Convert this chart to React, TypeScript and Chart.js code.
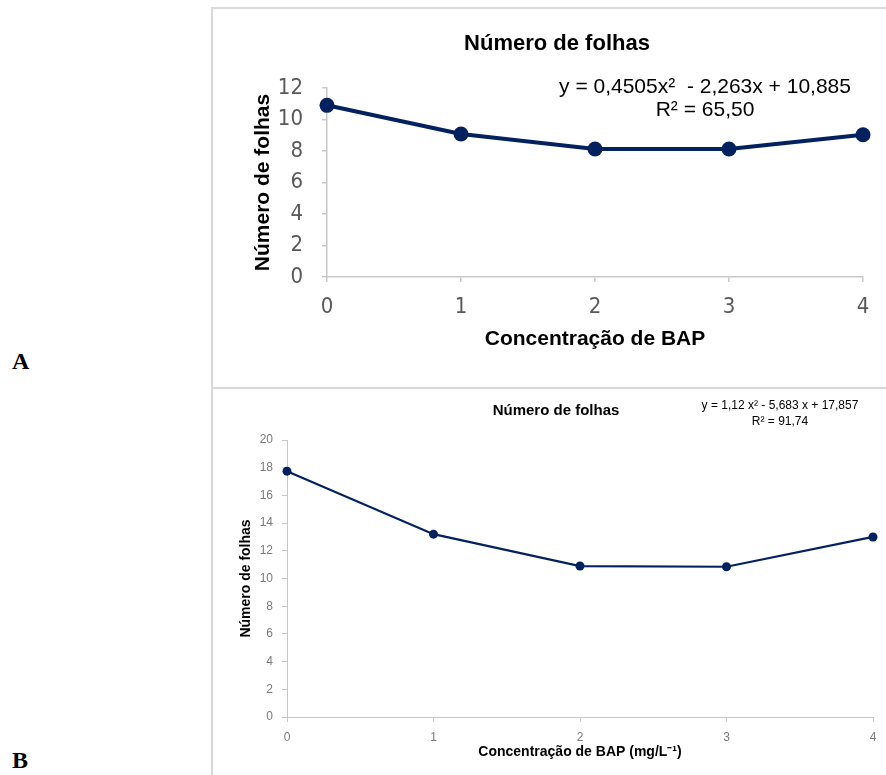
import React, { useEffect, useRef } from 'react';
import { Chart, registerables } from 'chart.js';
Chart.register(...registerables);

const concentrationLabels = ['0', '1', '2', '3', '4'];
const leavesA = [10.9, 9.08, 8.13, 8.13, 9.03];
const leavesB = [17.75, 13.2, 10.9, 10.85, 13.0];
const chartTitle = 'Número de folhas';
const yTitle = 'Número de folhas';
const xTitleA = 'Concentração de BAP';
const xTitleB = 'Concentração de BAP (mg/L⁻¹)';
const equationA = ['y = 0,4505x²  - 2,263x + 10,885', 'R² = 65,50'];
const equationB = ['y = 1,12 x² - 5,683 x + 17,857', 'R² = 91,74'];

const NAVY = '#03215f';
const AXIS = '#c8c8c8';
const ARIAL = "'Liberation Sans', Arial, sans-serif";
const NARROW = "'Liberation Sans Narrow', 'DejaVu Sans Condensed', 'Liberation Sans', sans-serif";

type Panel = {
  width: number;
  height: number;
  data: number[];
  yMax: number;
  pad: { left: number; right: number; top: number; bottom: number };
  yWidth: number;
  xHeight: number;
  tickFont: any;
  tickColor: string;
  yTickPad: number;
  xTickPad: number;
  axisTitleSize: number;
  xTitle: string;
  title: { x: number; y: number; font: string };
  eq: { lines: string[]; x: number; ys: number[]; font: string };
  lineWidth: number;
  pointRadius: number;
  axisWidth: number;
};

function ChartPanel({ p }: { p: Panel }) {
  const ref = useRef<HTMLCanvasElement | null>(null);
  useEffect(() => {
    if (!ref.current) return;
    const textPlugin = {
      id: 'texts',
      afterDraw(chart: any) {
        const ctx = chart.ctx;
        ctx.save();
        ctx.fillStyle = '#000';
        ctx.textAlign = 'center';
        ctx.textBaseline = 'middle';
        ctx.font = p.title.font;
        ctx.fillText(chartTitle, p.title.x, p.title.y);
        ctx.font = p.eq.font;
        p.eq.lines.forEach((l, i) => ctx.fillText(l, p.eq.x, p.eq.ys[i]));
        ctx.restore();
      },
    };
    const chart = new Chart(ref.current, {
      type: 'line',
      data: {
        labels: concentrationLabels,
        datasets: [
          {
            data: p.data,
            borderColor: NAVY,
            backgroundColor: NAVY,
            borderWidth: p.lineWidth,
            pointRadius: p.pointRadius,
            pointBackgroundColor: NAVY,
            pointBorderColor: NAVY,
            pointBorderWidth: 0,
            tension: 0,
            clip: false as any,
          },
        ],
      },
      options: {
        animation: false,
        responsive: false,
        layout: { padding: p.pad },
        plugins: { legend: { display: false }, title: { display: false }, tooltip: { enabled: false } },
        scales: {
          x: {
            type: 'category',
            offset: false,
            grid: { display: true, drawOnChartArea: false, drawTicks: true, tickLength: 5, color: AXIS, lineWidth: p.axisWidth },
            border: { display: true, color: AXIS, width: p.axisWidth },
            ticks: { font: p.tickFont, color: p.tickColor, padding: p.xTickPad, maxRotation: 0 },
            title: { display: true, text: p.xTitle, font: { family: ARIAL, size: p.axisTitleSize, weight: 'bold' }, color: '#000', padding: 0 },
            afterFit: (s: any) => { s.height = p.xHeight; },
          },
          y: {
            min: 0,
            max: p.yMax,
            ticks: { stepSize: 2, font: p.tickFont, color: p.tickColor, padding: p.yTickPad },
            grid: { display: true, drawOnChartArea: false, drawTicks: true, tickLength: 5, color: AXIS, lineWidth: p.axisWidth },
            border: { display: true, color: AXIS, width: p.axisWidth },
            title: { display: true, text: yTitle, font: { family: ARIAL, size: p.axisTitleSize, weight: 'bold' }, color: '#000', padding: 0 },
            afterFit: (s: any) => { s.width = p.yWidth; },
          },
        },
      },
      plugins: [textPlugin],
    } as any);
    return () => chart.destroy();
  }, []);
  return <canvas ref={ref} width={p.width} height={p.height} style={{ width: p.width, height: p.height, display: 'block' }} />;
}

const panelA: Panel = {
  width: 673,
  height: 377,
  data: leavesA,
  yMax: 12,
  pad: { left: 38, right: 23, top: 79, bottom: 34 },
  yWidth: 76,
  xHeight: 75,
  tickFont: { family: NARROW, size: 22 },
  tickColor: '#595959',
  yTickPad: 19,
  xTickPad: 12,
  axisTitleSize: 21,
  xTitle: xTitleA,
  title: { x: 344, y: 35, font: `bold 22px ${ARIAL}` },
  eq: { lines: equationA, x: 492, ys: [78, 101], font: `21px ${ARIAL}` },
  lineWidth: 4,
  pointRadius: 7.5,
  axisWidth: 1.5,
};

const panelB: Panel = {
  width: 673,
  height: 389,
  data: leavesB,
  yMax: 20,
  pad: { left: 25, right: 13, top: 53, bottom: 15 },
  yWidth: 49,
  xHeight: 44,
  tickFont: { family: ARIAL, size: 12 },
  tickColor: '#7a7a7a',
  yTickPad: 9,
  xTickPad: 8,
  axisTitleSize: 14,
  xTitle: xTitleB,
  title: { x: 343, y: 24, font: `bold 15px ${ARIAL}` },
  eq: { lines: equationB, x: 567, ys: [19, 35], font: `12px ${ARIAL}` },
  lineWidth: 2.2,
  pointRadius: 4.5,
  axisWidth: 1,
};

export default function App() {
  const letter: React.CSSProperties = {
    position: 'absolute',
    left: 12,
    fontFamily: "'Liberation Serif', 'Times New Roman', serif",
    fontWeight: 'bold',
    fontSize: 24,
    lineHeight: '24px',
    color: '#000',
  };
  return (
    <div style={{ position: 'absolute', left: 0, top: 0, width: 886, height: 775, overflow: 'hidden', background: '#fff' }}>
      <div style={{ position: 'absolute', left: 211, top: 7, width: 700, height: 378, borderLeft: '2px solid #d9d9d9', borderTop: '2px solid #d9d9d9', borderBottom: '2px solid #d9d9d9' }} />
      <div style={{ position: 'absolute', left: 211, top: 386, width: 700, height: 400, borderLeft: '2px solid #d9d9d9' }} />
      <div style={{ position: 'absolute', left: 213, top: 9 }}>
        <ChartPanel p={panelA} />
      </div>
      <div style={{ position: 'absolute', left: 213, top: 387 }}>
        <ChartPanel p={panelB} />
      </div>
      <div style={{ ...letter, top: 349 }}>A</div>
      <div style={{ ...letter, top: 748 }}>B</div>
    </div>
  );
}
